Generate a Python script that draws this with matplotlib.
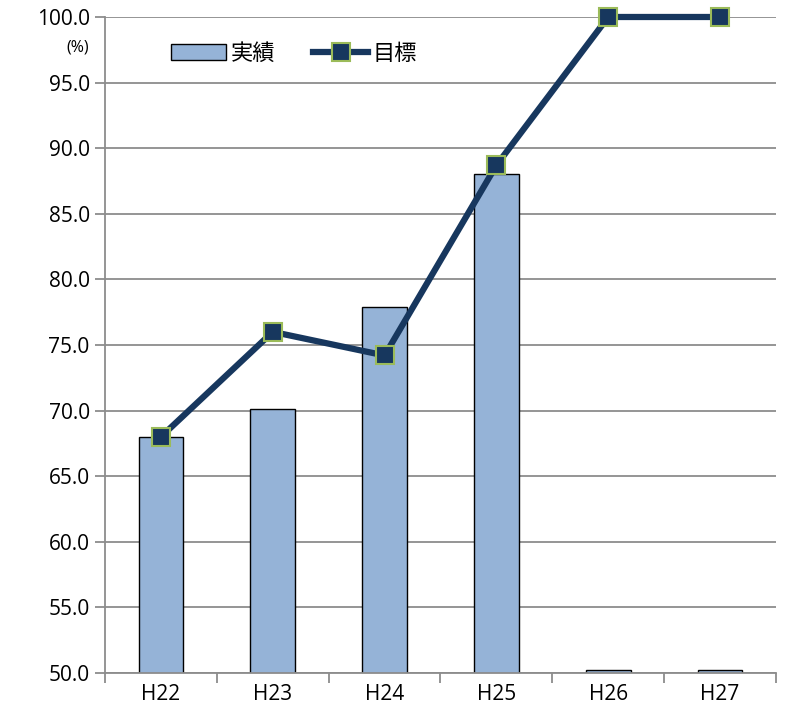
import numpy as np
import matplotlib.pyplot as plt

plt.rcParams['font.family'] = ['Open Sans', 'Noto Sans CJK JP', 'DejaVu Sans']

years = ["H22", "H23", "H24", "H25", "H26", "H27"]
actual = [68.0, 70.1, 77.9, 88.0, 50.2, 50.2]
target = [68.0, 76.0, 74.2, 88.7, 100.0, 100.0]

x = np.arange(len(years))

fig = plt.figure(figsize=(7.89, 7.2), dpi=100)
ax = fig.add_axes([0.1331, 0.0653, 0.8504, 0.9111])

bars = ax.bar(x, actual, width=0.4, color="#95B3D7", edgecolor="black", linewidth=1.0,
              label="実績", zorder=2)
line, = ax.plot(x, target, color="#17375E", linewidth=4.5, marker="s", markersize=13,
                markerfacecolor="#17375E", markeredgecolor="#9BBB59", markeredgewidth=1.5,
                label="目標", zorder=3, clip_on=False)

ax.set_xlim(-0.5, len(years) - 0.5)
ax.set_ylim(50, 100)
ax.set_yticks(np.arange(50, 100.1, 5))
ax.set_yticklabels([f"{v:.1f}" for v in np.arange(50, 100.1, 5)], fontsize=15)
ax.yaxis.grid(True, color="#8c8c8c", linewidth=1.3)
ax.set_axisbelow(True)

ax.set_xticks(x)
ax.set_xticklabels(years, fontsize=15)
ax.tick_params(axis="x", length=0, pad=8)
ax.set_xticks(np.arange(-0.5, len(years)), minor=True)
ax.tick_params(axis="x", which="minor", length=7, color="#8c8c8c", width=1.3)
ax.tick_params(axis="y", length=7, color="#8c8c8c", width=1.3, pad=4)

for s in ["top", "right"]:
    ax.spines[s].set_visible(False)
for s in ["left", "bottom"]:
    ax.spines[s].set_color("#8c8c8c")
    ax.spines[s].set_linewidth(1.3)

fig.text(0.099, 0.934, "(%)", fontsize=11.5, ha="center", va="center")

ax.legend([bars, line], ["実績", "目標"], loc="upper left", bbox_to_anchor=(0.068, 0.99),
          ncol=2, frameon=False, fontsize=16, handlelength=2.5, handleheight=0.75,
          handletextpad=0.2, columnspacing=1.7)

fig.savefig("out.png", dpi=100)
